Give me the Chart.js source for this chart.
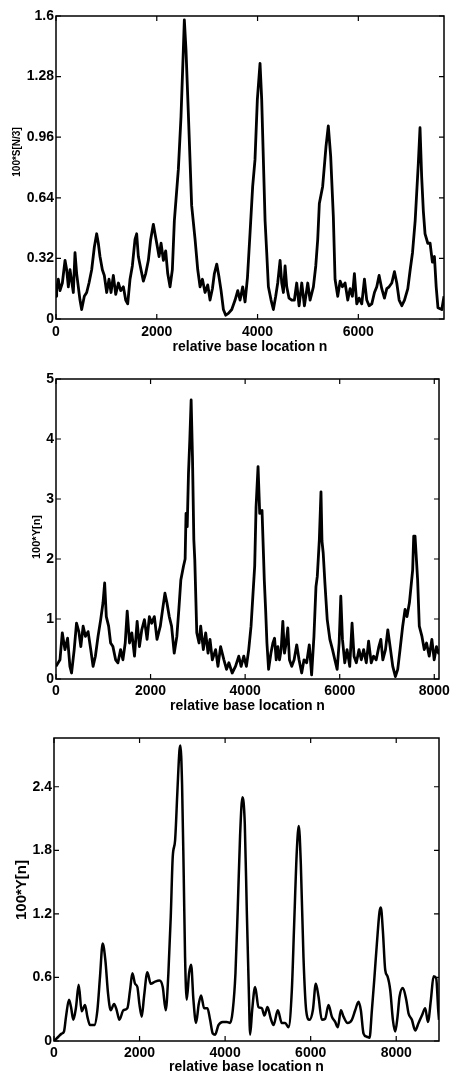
<!DOCTYPE html>
<html>
<head>
<meta charset="utf-8">
<script src="https://cdn.jsdelivr.net/npm/chart.js@4.4.1/dist/chart.umd.min.js"></script>
<style>
  html, body { margin: 0; padding: 0; background: #fff; }
  body { width: 454px; height: 1076px; position: relative; overflow: hidden; }
  canvas { position: absolute; left: 0; }
</style>
</head>
<body>
<canvas id="c1" width="454" height="360" style="top:0px"></canvas>
<canvas id="c2" width="454" height="355" style="top:360px"></canvas>
<canvas id="c3" width="454" height="361" style="top:715px"></canvas>
<script>
// ---- Panel 1: 100*S[N/3] ----
const pos1 = [0,13,46,79,126,179,212,245,278,311,344,377,410,443,476,509,562,609,655,708,761,807,840,873,920,959,1006,1052,1092,1138,1185,1238,1284,1337,1383,1423,1469,1515,1568,1601,1634,1687,1734,1780,1833,1879,1932,1965,1999,2045,2085,2131,2177,2217,2263,2309,2349,2428,2481,2527,2547,2580,2626,2692,2760,2813,2859,2906,2958,3011,3057,3104,3143,3190,3236,3276,3322,3368,3421,3488,3554,3607,3653,3705,3752,3800,3850,3903,3949,3996,4049,4082,4149,4182,4215,4268,4314,4360,4400,4447,4480,4513,4546,4579,4625,4678,4731,4777,4824,4877,4930,4996,5042,5108,5155,5194,5226,5292,5358,5404,5451,5504,5538,5591,5638,5684,5737,5790,5836,5882,5922,5969,6015,6068,6121,6167,6214,6267,6320,6366,6412,6465,6518,6565,6611,6664,6717,6763,6810,6863,6916,6982,7029,7075,7128,7190,7224,7257,7290,7324,7378,7424,7470,7510,7545,7580,7656,7700];
const val1 = [0.12,0.155,0.21,0.15,0.19,0.31,0.26,0.17,0.26,0.20,0.14,0.35,0.24,0.17,0.10,0.05,0.12,0.14,0.19,0.26,0.38,0.45,0.40,0.33,0.26,0.23,0.14,0.21,0.14,0.23,0.13,0.19,0.15,0.17,0.10,0.08,0.21,0.28,0.42,0.45,0.33,0.26,0.20,0.24,0.31,0.42,0.50,0.45,0.40,0.33,0.40,0.31,0.36,0.24,0.17,0.26,0.52,0.79,1.07,1.42,1.58,1.42,1.09,0.60,0.42,0.26,0.17,0.21,0.14,0.18,0.10,0.16,0.24,0.29,0.22,0.15,0.05,0.02,0.03,0.05,0.10,0.15,0.10,0.17,0.09,0.22,0.45,0.70,0.84,1.16,1.35,1.16,0.52,0.35,0.17,0.10,0.05,0.12,0.19,0.31,0.19,0.14,0.28,0.17,0.11,0.10,0.10,0.19,0.07,0.19,0.07,0.19,0.10,0.17,0.28,0.42,0.61,0.70,0.91,1.02,0.86,0.54,0.21,0.12,0.20,0.17,0.19,0.10,0.16,0.12,0.24,0.08,0.11,0.08,0.21,0.10,0.07,0.08,0.14,0.17,0.23,0.16,0.11,0.16,0.17,0.19,0.25,0.19,0.10,0.07,0.10,0.16,0.26,0.35,0.52,0.82,1.01,0.75,0.57,0.45,0.40,0.40,0.30,0.33,0.17,0.06,0.05,0.12];
const xTicks1 = [0,2000,4000,6000];
const yTicks1 = [0,0.32,0.64,0.96,1.28,1.6];

// ---- Panel 2: 100*Y[n] (noisy) ----
const pos2 = [0,84,133,189,245,294,329,385,434,483,525,574,623,679,735,784,833,889,945,994,1029,1064,1113,1155,1204,1261,1310,1366,1415,1464,1506,1555,1604,1660,1716,1765,1814,1870,1926,1975,2024,2080,2136,2206,2255,2304,2346,2395,2444,2500,2556,2598,2640,2696,2731,2750,2775,2802,2830,2858,2886,2915,2935,2977,3025,3060,3116,3166,3215,3257,3306,3376,3425,3481,3551,3607,3656,3726,3796,3866,3915,3971,4027,4076,4125,4167,4202,4231,4273,4308,4357,4391,4405,4433,4461,4496,4545,4587,4622,4657,4692,4727,4762,4797,4832,4867,4902,4937,4986,5036,5091,5140,5196,5245,5301,5357,5406,5455,5498,5526,5569,5604,5625,5651,5687,5736,5792,5848,5897,5946,5988,6023,6058,6107,6156,6212,6261,6303,6352,6408,6457,6506,6562,6611,6667,6716,6772,6828,6870,6912,6968,7017,7066,7122,7178,7227,7276,7332,7382,7423,7474,7508,7543,7565,7593,7648,7683,7739,7788,7837,7893,7949,7998,8047,8089,8100];
const val2 = [0.21,0.32,0.77,0.49,0.68,0.21,0.10,0.49,0.93,0.79,0.54,0.88,0.71,0.79,0.49,0.21,0.38,0.71,0.99,1.27,1.60,1.04,0.88,0.60,0.54,0.32,0.27,0.49,0.32,0.60,1.13,0.60,0.77,0.38,0.96,0.54,0.82,0.99,0.66,1.04,0.93,1.04,0.66,0.88,1.16,1.43,1.27,1.04,0.88,0.43,0.71,1.16,1.65,1.88,2.00,2.76,2.54,3.43,3.99,4.65,3.71,2.32,1.99,0.77,0.60,0.88,0.49,0.77,0.43,0.66,0.32,0.49,0.21,0.54,0.32,0.16,0.27,0.10,0.21,0.38,0.21,0.38,0.21,0.49,0.88,1.43,1.88,2.87,3.54,2.76,2.81,2.00,1.65,1.16,0.60,0.16,0.43,0.60,0.68,0.32,0.54,0.32,0.49,0.96,0.43,0.60,0.85,0.32,0.21,0.32,0.57,0.32,0.10,0.32,0.27,0.57,0.07,0.71,1.54,1.71,2.32,3.12,2.30,2.10,1.60,0.99,0.66,0.49,0.32,0.16,0.60,1.38,0.66,0.27,0.49,0.21,0.93,0.38,0.27,0.49,0.32,0.49,0.27,0.63,0.27,0.38,0.32,0.54,0.66,0.32,0.49,0.82,0.54,0.21,0.04,0.16,0.49,0.88,1.16,1.04,1.27,1.54,1.82,2.38,2.38,1.65,0.88,0.71,0.49,0.60,0.38,0.66,0.32,0.54,0.43,0.50];
const xTicks2 = [0,2000,4000,6000,8000];
const yTicks2 = [0,1,2,3,4,5];

// ---- Panel 3: 100*Y[n] (smoothed) ----
const pos3 = [0,101,179,234,281,351,398,452,515,577,647,725,780,842,943,1014,1076,1138,1201,1263,1326,1404,1466,1528,1622,1715,1778,1832,1895,1949,1996,2051,2105,2183,2261,2363,2464,2542,2612,2674,2729,2776,2830,2885,2932,2955,2994,3033,3064,3103,3158,3205,3259,3321,3384,3438,3509,3587,3649,3712,3766,3844,3945,4039,4117,4179,4242,4296,4351,4405,4460,4507,4554,4585,4632,4702,4780,4858,4920,4990,5068,5131,5232,5326,5404,5482,5560,5614,5677,5723,5770,5832,5895,5973,6051,6121,6183,6261,6339,6417,6495,6573,6635,6706,6768,6862,6963,7041,7119,7173,7236,7314,7376,7431,7485,7548,7610,7641,7688,7743,7797,7860,7922,7977,8031,8078,8156,8234,8288,8366,8444,8522,8600,8678,8741,8811,8873,8935,8982,9000];
const val3 = [0.00,0.04,0.07,0.09,0.23,0.39,0.32,0.20,0.32,0.53,0.28,0.34,0.23,0.15,0.15,0.29,0.61,0.92,0.76,0.45,0.29,0.35,0.29,0.20,0.29,0.31,0.48,0.64,0.54,0.51,0.35,0.23,0.42,0.65,0.54,0.56,0.57,0.51,0.29,0.64,1.17,1.74,1.89,2.36,2.74,2.79,2.42,1.55,0.79,0.39,0.64,0.72,0.39,0.17,0.35,0.43,0.31,0.31,0.20,0.07,0.06,0.15,0.18,0.18,0.17,0.29,0.64,1.26,1.95,2.30,2.05,1.23,0.48,0.06,0.29,0.51,0.32,0.31,0.24,0.32,0.21,0.15,0.29,0.17,0.17,0.13,0.48,1.10,1.80,2.03,1.67,0.79,0.29,0.20,0.29,0.54,0.42,0.20,0.21,0.34,0.23,0.18,0.13,0.29,0.23,0.17,0.20,0.29,0.37,0.29,0.07,0.04,0.03,0.29,0.57,0.92,1.22,1.26,1.04,0.67,0.61,0.48,0.20,0.09,0.23,0.42,0.50,0.39,0.26,0.20,0.10,0.17,0.24,0.31,0.18,0.39,0.61,0.59,0.29,0.20];
const xTicks3 = [0,2000,4000,6000,8000];
const yTicks3 = [0,0.6,1.2,1.8,2.4];

const xTitle = 'relative base location n';
const FAMILY = '"Liberation Sans", Arial, Helvetica, sans-serif';

// box round the plot area with inward ticks on all four sides
const framePlugin = {
  id: 'frame',
  afterDraw(chart) {
    const { ctx, chartArea: a, scales: { x, y } } = chart;
    ctx.save();
    ctx.strokeStyle = '#000';
    ctx.lineWidth = 1.5;
    ctx.strokeRect(a.left, a.top, a.right - a.left, a.bottom - a.top);
    ctx.lineWidth = 1.2;
    const L = 5;
    ctx.beginPath();
    x.ticks.forEach(t => {
      const px = x.getPixelForValue(t.value);
      ctx.moveTo(px, a.bottom); ctx.lineTo(px, a.bottom - L);
      ctx.moveTo(px, a.top); ctx.lineTo(px, a.top + L);
    });
    y.ticks.forEach(t => {
      const py = y.getPixelForValue(t.value);
      ctx.moveTo(a.left, py); ctx.lineTo(a.left + L, py);
      ctx.moveTo(a.right, py); ctx.lineTo(a.right - L, py);
    });
    ctx.stroke();
    ctx.restore();
  }
};

// rotated y-axis title placed where the reference has it
const yTitlePlugin = {
  id: 'ytitle',
  afterDraw(chart, args, o) {
    const { ctx } = chart;
    ctx.save();
    ctx.fillStyle = '#000';
    ctx.font = 'bold ' + o.size + 'px ' + FAMILY;
    ctx.textAlign = 'center';
    ctx.textBaseline = 'middle';
    ctx.translate(o.x, o.y);
    ctx.rotate(-Math.PI / 2);
    ctx.fillText(o.text, 0, 0);
    ctx.restore();
  }
};

function makeChart(id, pos, val, xt, yt, c) {
  const data = pos.map((n, i) => ({ x: n, y: val[i] }));
  return new Chart(document.getElementById(id), {
    type: 'line',
    data: { datasets: [{
      data,
      borderColor: '#000',
      borderWidth: c.lw,
      borderJoinStyle: 'round',
      pointRadius: 0,
      tension: c.smooth ? 0.4 : 0,
      cubicInterpolationMode: c.smooth ? 'monotone' : 'default',
      fill: false
    }] },
    options: {
      responsive: false,
      animation: false,
      events: [],
      layout: { padding: { left: 0, right: 454 - c.right, top: c.top, bottom: 0 } },
      plugins: {
        legend: { display: false },
        tooltip: { enabled: false },
        ytitle: { text: c.yTitle, size: c.yTitleSize, x: c.yTitleX, y: c.yTitleY }
      },
      scales: {
        x: {
          type: 'linear', min: 0, max: c.xmax,
          afterBuildTicks: s => { s.ticks = xt.map(v => ({ value: v })); },
          afterFit: s => { s.height = c.H - c.bottom; },
          grid: { display: false, drawTicks: false },
          border: { display: false },
          ticks: { color: '#000', padding: c.xTickPad, autoSkip: false, maxRotation: 0,
                   font: { family: FAMILY, size: 14, weight: 'bold' },
                   callback: v => String(v) },
          title: { display: true, text: xTitle, color: '#000',
                   font: { family: FAMILY, size: 14, weight: 'bold' },
                   padding: { top: 0, bottom: c.xTitlePad } }
        },
        y: {
          type: 'linear', min: 0, max: c.ymax,
          afterBuildTicks: s => { s.ticks = yt.map(v => ({ value: v })); },
          afterFit: s => { s.width = c.left; },
          grid: { display: false, drawTicks: false },
          border: { display: false },
          ticks: { color: '#000', padding: 2, autoSkip: false,
                   font: { family: FAMILY, size: 14, weight: 'bold' },
                   callback: v => String(v) },
          title: { display: false }
        }
      }
    },
    plugins: [framePlugin, yTitlePlugin]
  });
}

makeChart('c1', pos1, val1, xTicks1, yTicks1, {
  H: 360, left: 56, right: 444, top: 16, bottom: 319, xmax: 7700, ymax: 1.6,
  xTickPad: 5, xTitlePad: 4, yTitle: '100*S[N/3]', yTitleSize: 10, yTitleX: 17, yTitleY: 152,
  lw: 2.8, smooth: false
});
makeChart('c2', pos2, val2, xTicks2, yTicks2, {
  H: 355, left: 56, right: 442, top: 19, bottom: 319, xmax: 8100, ymax: 5,
  xTickPad: 4, xTitlePad: 0, yTitle: '100*Y[n]', yTitleSize: 11, yTitleX: 37, yTitleY: 177,
  lw: 2.8, smooth: false
});
makeChart('c3', pos3, val3, xTicks3, yTicks3, {
  H: 361, left: 54, right: 439, top: 23, bottom: 326, xmax: 9000, ymax: 2.86,
  xTickPad: 4, xTitlePad: 0, yTitle: '100*Y[n]', yTitleSize: 15, yTitleX: 22, yTitleY: 175,
  lw: 2.5, smooth: true
});
</script>
</body>
</html>
